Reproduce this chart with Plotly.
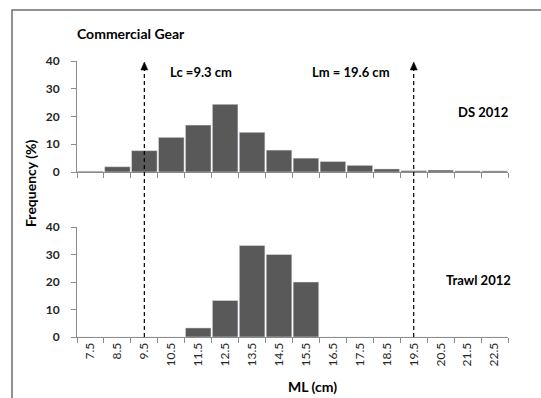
import math
import plotly.graph_objects as go

# Mantle-length classes (midpoints, cm)
ml_classes = ["7.5", "8.5", "9.5", "10.5", "11.5", "12.5", "13.5", "14.5",
              "15.5", "16.5", "17.5", "18.5", "19.5", "20.5", "21.5", "22.5"]

# Length-frequency (%) by gear
ds_2012 = [0.3, 1.9, 7.7, 12.5, 16.9, 24.4, 14.3, 7.9,
           5.0, 3.8, 2.4, 1.1, 0.5, 0.7, 0.4, 0.4]
trawl_2012 = [0, 0, 0, 0, 3.3, 13.3, 33.3, 30.0,
              20.0, 0, 0, 0, 0, 0, 0, 0]

# Length at first capture and length at maturity (cm)
lc = 9.3
lm = 19.6

y_ticks = [0, 10, 20, 30, 40]

FONT = "Lato"
BAR = "#595959"
AXIS = "#8c8c8c"
TXT = "#262626"

W, H = 541, 398
L, R, T, B = 77, 33, 61, 61
pw, ph = W - L - R, H - T - B


def px(x):
    return (x - L) / pw


def py(y):
    return (H - B - y) / ph


def class_index(v):
    # length class that contains the value
    return ml_classes.index(str(math.floor(v) + 0.5))


fig = go.Figure()
fig.add_trace(go.Bar(x=ml_classes, y=ds_2012, marker_color=BAR,
                     xaxis="x", yaxis="y", showlegend=False))
fig.add_trace(go.Bar(x=ml_classes, y=trawl_2012, marker_color=BAR,
                     xaxis="x2", yaxis="y2", showlegend=False))

xcommon = dict(type="category", showline=True, linecolor=AXIS, linewidth=1,
               ticks="outside", tickson="boundaries", ticklen=5,
               tickcolor=AXIS, showgrid=False, zeroline=False,
               range=[-0.5, len(ml_classes) - 0.5])
ycommon = dict(range=[0, 40], tickvals=y_ticks, showline=True, linecolor=AXIS,
               linewidth=1, ticks="outside", ticklen=5, tickcolor=AXIS,
               showgrid=False, zeroline=False, ticklabelstandoff=9,
               tickfont=dict(family=FONT, size=12, color=TXT, weight="bold"))

top_lo = py(172)
bot_hi = py(227)

fig.update_layout(
    width=W, height=H,
    margin=dict(l=L, r=R, t=T, b=B),
    paper_bgcolor="white", plot_bgcolor="white",
    bargap=0.05,
    xaxis=dict(xcommon, anchor="y", showticklabels=False),
    yaxis=dict(ycommon, domain=[top_lo, 1], anchor="x"),
    xaxis2=dict(xcommon, anchor="y2", tickangle=-90,
                tickfont=dict(family=FONT, size=12, color=TXT)),
    yaxis2=dict(ycommon, domain=[0, bot_hi], anchor="x2"),
)

# Outer frame
fig.add_shape(type="rect", xref="paper", yref="paper",
              x0=px(12), x1=px(W + 20), y0=py(H + 20), y1=py(10),
              line=dict(color="#6e6e6e", width=1.5), layer="below")

# Lc / Lm reference lines with arrowheads
for v in (lc, lm):
    xi = class_index(v)
    fig.add_shape(type="line", xref="x", yref="paper",
                  x0=xi, x1=xi, y0=0, y1=py(68),
                  line=dict(color="black", width=1.2, dash="4px,3px"))
    fig.add_shape(type="path", xref="x", yref="paper",
                  xsizemode="pixel", ysizemode="pixel",
                  xanchor=xi, yanchor=py(70),
                  path="M -3.5 0 L 3.5 0 L 0 8 Z",
                  fillcolor="black", line=dict(color="black", width=0.5))

texts = [
    ("Commercial Gear", 131, 33, 14),
    (f"Lc ={lc} cm", 201, 72, 13),
    (f"Lm = {lm} cm", 351, 72, 13),
    ("DS 2012", 483, 112, 13),
    ("Trawl 2012", 478, 280, 13),
    ("ML (cm)", 312, 386, 14),
]
for t, x, y, s in texts:
    fig.add_annotation(text=t, x=px(x), y=py(y), xref="paper", yref="paper",
                       xanchor="center", yanchor="middle", showarrow=False,
                       font=dict(family=FONT, size=s, color="black",
                                 weight="bold"))

fig.add_annotation(text="Frequency (%)", x=px(30), y=py(183), textangle=-90,
                   xref="paper", yref="paper", xanchor="center",
                   yanchor="middle", showarrow=False,
                   font=dict(family=FONT, size=14, color="black", weight="bold"))

fig.write_html("out.html")
